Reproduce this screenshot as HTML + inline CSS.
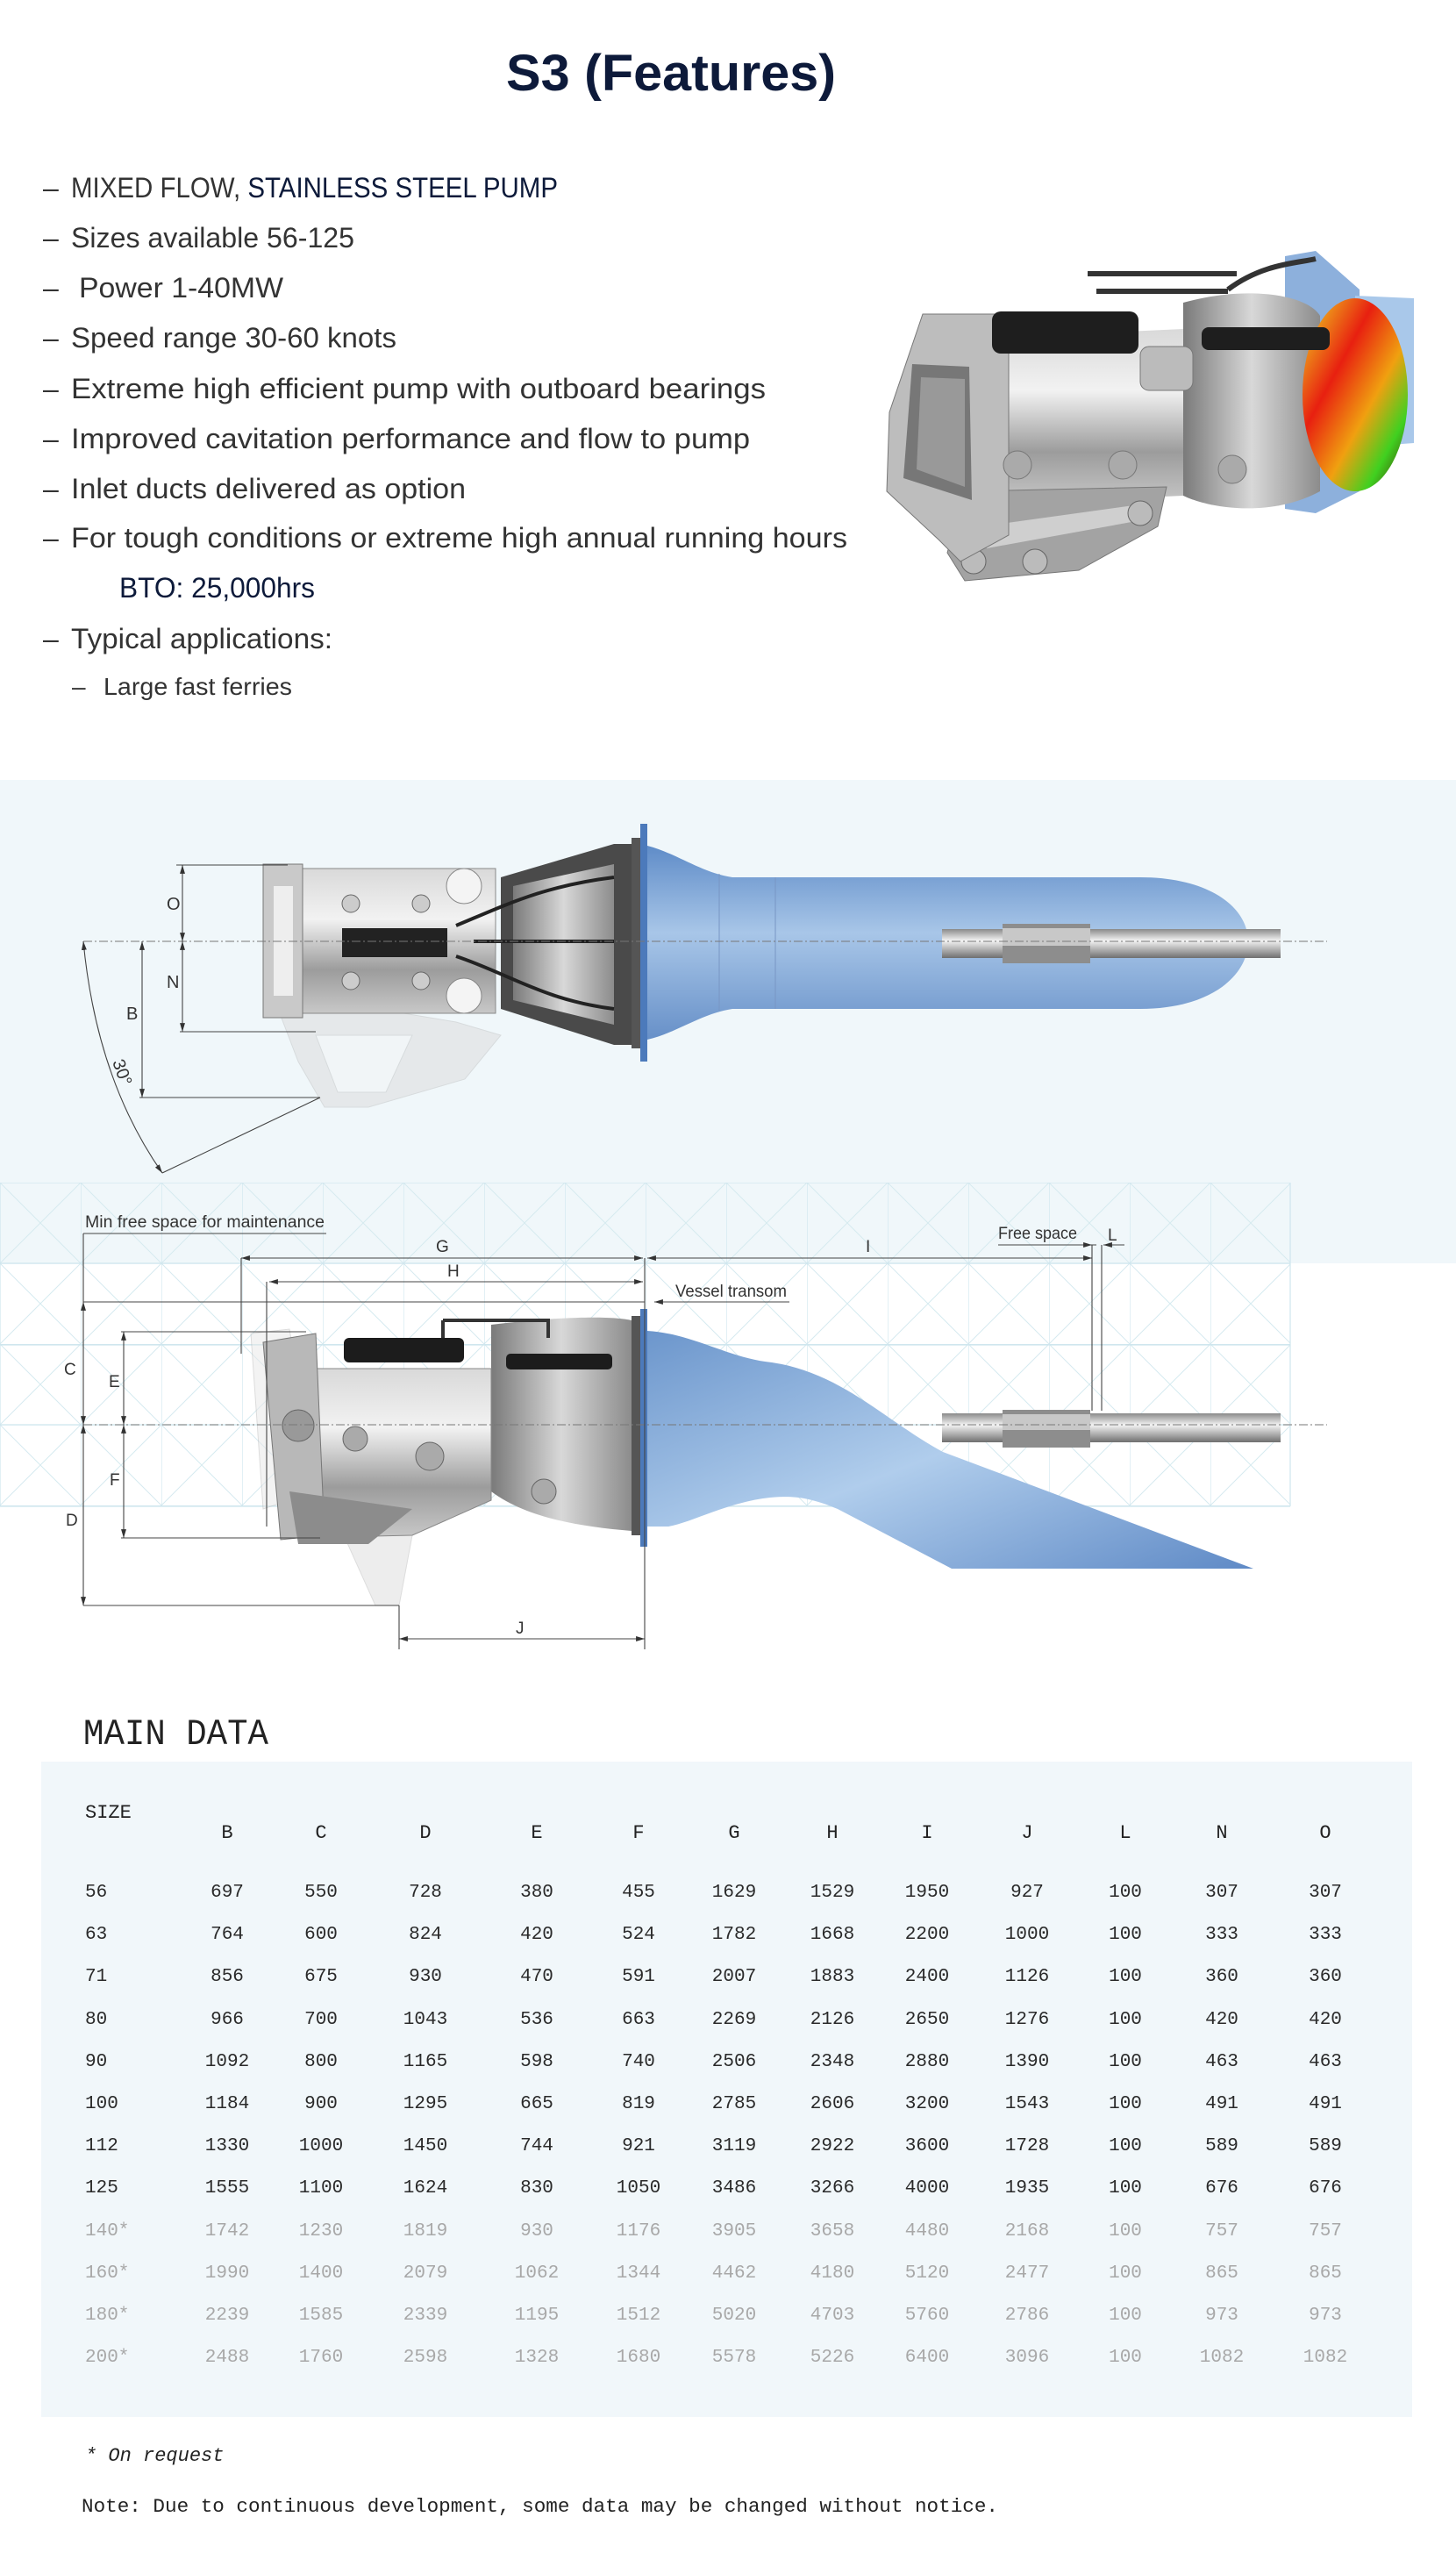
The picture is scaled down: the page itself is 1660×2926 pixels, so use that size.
<!DOCTYPE html>
<html><head><meta charset="utf-8"><style>
html,body{margin:0;padding:0;background:#fff;}
svg{display:block;}
</style></head><body>
<svg width="1660" height="2926" viewBox="0 0 1660 2926" xmlns="http://www.w3.org/2000/svg">
<defs>
<linearGradient id="metal" x1="0" y1="0" x2="0" y2="1">
<stop offset="0" stop-color="#d9d9d9"/><stop offset="0.35" stop-color="#f2f2f2"/><stop offset="0.7" stop-color="#9c9c9c"/><stop offset="1" stop-color="#c8c8c8"/></linearGradient>
<linearGradient id="metal2" x1="0" y1="0" x2="1" y2="0">
<stop offset="0" stop-color="#7a7a7a"/><stop offset="0.5" stop-color="#d8d8d8"/><stop offset="1" stop-color="#8c8c8c"/></linearGradient>
<linearGradient id="blue" x1="0" y1="0" x2="0" y2="1">
<stop offset="0" stop-color="#5f8cc8"/><stop offset="0.45" stop-color="#a8c6e8"/><stop offset="1" stop-color="#6790c8"/></linearGradient>
<linearGradient id="blue2" x1="0" y1="0" x2="1" y2="1">
<stop offset="0" stop-color="#6c96cc"/><stop offset="0.5" stop-color="#b0cdec"/><stop offset="1" stop-color="#5f8ac6"/></linearGradient>
<linearGradient id="shaft" x1="0" y1="0" x2="0" y2="1">
<stop offset="0" stop-color="#8a8a8a"/><stop offset="0.4" stop-color="#f4f4f4"/><stop offset="1" stop-color="#6f6f6f"/></linearGradient>
<linearGradient id="imp" x1="0" y1="0" x2="1" y2="1">
<stop offset="0" stop-color="#f0e020"/><stop offset="0.35" stop-color="#e82010"/><stop offset="0.6" stop-color="#f0a010"/><stop offset="0.8" stop-color="#40d020"/><stop offset="1" stop-color="#402000"/></linearGradient>
<pattern id="grid" x="0" y="1348" width="92" height="92" patternUnits="userSpaceOnUse">
<path d="M0,0 L92,92 M92,0 L0,92" stroke="#d6eaf0" stroke-width="1" fill="none"/>
<path d="M0,0 H92 M0,0 V92" stroke="#cfe6ee" stroke-width="1.2" fill="none"/>
</pattern>
<marker id="ar" viewBox="0 0 10 10" refX="10" refY="5" markerWidth="9" markerHeight="9" orient="auto-start-reverse"><path d="M0,2 L10,5 L0,8z" fill="#333"/></marker>
</defs>

<text x="765" y="103" text-anchor="middle" font-family="Liberation Sans, sans-serif" font-weight="bold" font-size="58" fill="#0d1a3a" textLength="376" lengthAdjust="spacingAndGlyphs">S3 (Features)</text>

<g font-family="Liberation Sans, sans-serif" font-size="32" fill="#333">
<text x="49" y="225">–</text>
<text x="81" y="225" textLength="555" lengthAdjust="spacingAndGlyphs">MIXED FLOW, <tspan fill="#0d1a3a">STAINLESS STEEL PUMP</tspan></text>
<text x="49" y="282">–</text><text x="81" y="282" textLength="323" lengthAdjust="spacingAndGlyphs">Sizes available 56-125</text>
<text x="49" y="339">–</text><text x="90" y="339" textLength="233" lengthAdjust="spacingAndGlyphs">Power 1-40MW</text>
<text x="49" y="396">–</text><text x="81" y="396" textLength="371" lengthAdjust="spacingAndGlyphs">Speed range 30-60 knots</text>
<text x="49" y="454">–</text><text x="81" y="454" textLength="792" lengthAdjust="spacingAndGlyphs">Extreme high efficient  pump with outboard bearings</text>
<text x="49" y="511">–</text><text x="81" y="511" textLength="774" lengthAdjust="spacingAndGlyphs">Improved cavitation performance and flow to pump</text>
<text x="49" y="568">–</text><text x="81" y="568" textLength="450" lengthAdjust="spacingAndGlyphs">Inlet ducts delivered as option</text>
<text x="49" y="624">–</text><text x="81" y="624" textLength="885" lengthAdjust="spacingAndGlyphs">For tough conditions or extreme high annual running hours</text>
<text x="136" y="681" fill="#0d1a3a" textLength="223" lengthAdjust="spacingAndGlyphs">BTO: 25,000hrs</text>
<text x="49" y="739">–</text><text x="81" y="739" textLength="298" lengthAdjust="spacingAndGlyphs">Typical applications:</text>
<text x="82" y="792" font-size="28">–</text><text x="118" y="792" font-size="28" textLength="215" lengthAdjust="spacingAndGlyphs">Large fast ferries</text>
</g>

<!-- top pump image -->
<g>
<path d="M1465,292 L1500,286 L1550,330 L1550,560 L1500,585 L1465,580z" fill="#8db0dc"/>
<path d="M1545,337 L1612,340 L1612,505 L1545,510z" fill="#a9c8ea"/>
<path d="M1349,345 C1420,325 1490,335 1505,360 L1505,560 C1450,590 1380,580 1349,565z" fill="url(#metal2)"/>
<ellipse cx="1545" cy="450" rx="60" ry="110" fill="url(#imp)"/>
<path d="M1131,385 L1349,375 L1349,565 L1131,575z" fill="url(#metal)"/>
<path d="M1100,560 L1330,555 L1320,600 L1230,650 L1100,662 L1080,630z" fill="#a3a3a3" stroke="#777"/>
<path d="M1120,600 L1300,575 L1290,595 L1125,625z" fill="#cfcfcf"/>
<circle cx="1110" cy="640" r="14" fill="#bbb" stroke="#666"/><circle cx="1180" cy="640" r="14" fill="#bbb" stroke="#666"/><circle cx="1300" cy="585" r="14" fill="#bbb" stroke="#666"/>
<path d="M1052,358 L1135,358 L1150,380 L1150,610 L1095,640 L1070,615 L1011,560 L1014,470z" fill="#bdbdbd" stroke="#777"/>
<path d="M1040,415 L1105,418 L1108,570 L1030,545z" fill="#777"/>
<path d="M1050,430 L1100,432 L1100,555 L1045,535z" fill="#999"/>
<rect x="1131" y="355" width="167" height="48" rx="10" fill="#1e1e1e"/>
<rect x="1370" y="373" width="146" height="26" rx="8" fill="#1e1e1e"/>
<path d="M1240,312 H1410 M1250,332 H1400 M1400,330 C1440,300 1480,300 1500,295" stroke="#333" stroke-width="6" fill="none"/>
<rect x="1300" y="395" width="60" height="50" rx="10" fill="#bbb" stroke="#777"/>
<circle cx="1160" cy="530" r="16" fill="#aaa" stroke="#777"/>
<circle cx="1280" cy="530" r="16" fill="#aaa" stroke="#777"/>
<circle cx="1405" cy="535" r="16" fill="#aaa" stroke="#777"/>
</g>

<rect x="0" y="889" width="1660" height="551" fill="#f0f7fa"/>
<rect x="0" y="1348" width="1471" height="369" fill="url(#grid)"/>
<path d="M0,1717 H1471 M1471,1348 V1717 M0,1440 H1471 M0,1533 H1471 M0,1624 H1471" stroke="#cfe6ee" stroke-width="1.2" fill="none"/>

<!-- Section 2 -->
<g opacity="0.45">
<path d="M317,1150 L430,1150 L520,1165 L571,1180 L530,1230 L420,1262 L370,1262 L340,1210z" fill="#d8d8d8" stroke="#bbb"/>
<path d="M360,1180 L470,1180 L440,1245 L385,1245z" fill="#f4f4f4" stroke="#bbb"/>
</g>
<path d="M738,964 C770,972 800,995 835,1000 L884,1000 L1300,1000 C1380,1000 1423,1035 1423,1073 C1423,1112 1380,1150 1300,1150 L884,1150 L835,1150 C800,1155 770,1178 738,1185z" fill="url(#blue)"/>
<path d="M820,996 V1152 M884,1000 V1150" stroke="#7896c4" stroke-width="1" fill="none"/>
<rect x="1074" y="1059" width="386" height="33" fill="url(#shaft)"/>
<rect x="1143" y="1053" width="100" height="45" fill="#8d8d8d"/>
<rect x="1143" y="1058" width="100" height="20" fill="#c8c8c8"/>
<rect x="730" y="939" width="8" height="271" fill="#4c7abb"/>
<rect x="720" y="955" width="10" height="240" fill="#555"/>
<path d="M571,1000 L700,962 L720,962 L720,1191 L700,1191 L571,1150z" fill="#4a4a4a"/>
<path d="M585,1010 L700,985 L700,1168 L585,1140z" fill="url(#metal2)"/>
<rect x="340" y="990" width="225" height="165" fill="url(#metal)" stroke="#888"/>
<rect x="300" y="985" width="45" height="175" fill="#c9c9c9" stroke="#777"/>
<rect x="312" y="1010" width="22" height="125" fill="#eee"/>
<rect x="390" y="1058" width="120" height="33" fill="#222"/>
<circle cx="529" cy="1010" r="20" fill="#f4f4f4" stroke="#888"/>
<circle cx="529" cy="1135" r="20" fill="#f4f4f4" stroke="#888"/>
<circle cx="400" cy="1030" r="10" fill="#ccc" stroke="#666"/><circle cx="480" cy="1030" r="10" fill="#ccc" stroke="#666"/>
<circle cx="400" cy="1118" r="10" fill="#ccc" stroke="#666"/><circle cx="480" cy="1118" r="10" fill="#ccc" stroke="#666"/>
<path d="M520,1055 C580,1030 620,1010 700,1000 M520,1090 C580,1110 620,1140 700,1150 M540,1073 H700" stroke="#222" stroke-width="4" fill="none"/>
<path d="M95,1073 H1513" stroke="#777" stroke-width="1" stroke-dasharray="10,3,2,3"/>
<g stroke="#444" stroke-width="1.1" fill="none">
<path d="M201,986 H328 M205,1176 H360 M159,1251 H365"/>
<path d="M208,986 V1073" marker-start="url(#ar)" marker-end="url(#ar)"/>
<path d="M208,1073 V1176" marker-start="url(#ar)" marker-end="url(#ar)"/>
<path d="M162,1073 V1251" marker-start="url(#ar)" marker-end="url(#ar)"/>
<path d="M95,1073 Q110,1230 185,1337" marker-start="url(#ar)" marker-end="url(#ar)"/>
<path d="M185,1337 L365,1251"/>
</g>
<g font-family="Liberation Sans, sans-serif" font-size="20" fill="#333">
<text x="190" y="1037">O</text><text x="190" y="1126">N</text><text x="144" y="1162">B</text>
<text x="124" y="1216" transform="rotate(70 130 1216)">30°</text>
</g>

<!-- Section 3 -->
<g opacity="0.5">
<path d="M392,1750 L470,1750 L455,1830 L428,1830z" fill="#ddd" stroke="#bbb"/>
<path d="M286,1520 L330,1515 L360,1700 L300,1720z" fill="#e8e8e8" stroke="#bbb"/>
</g>
<path d="M738,1517 C790,1520 830,1548 880,1553 C960,1565 1010,1620 1075,1655 L1429,1788 L1085,1788 L955,1720 C920,1705 900,1705 878,1707 C830,1712 790,1735 762,1740 L738,1740z" fill="url(#blue2)"/>
<rect x="1074" y="1611" width="386" height="33" fill="url(#shaft)"/>
<rect x="1143" y="1607" width="100" height="43" fill="#8d8d8d"/>
<rect x="1143" y="1612" width="100" height="18" fill="#c8c8c8"/>
<rect x="730" y="1492" width="8" height="271" fill="#4c7abb"/>
<rect x="720" y="1500" width="10" height="250" fill="#555"/>
<path d="M560,1510 C640,1500 700,1500 720,1505 L720,1745 C660,1740 600,1730 560,1700z" fill="url(#metal2)"/>
<path d="M330,1560 L560,1560 L560,1710 L470,1750 L340,1753z" fill="url(#metal)" stroke="#888"/>
<path d="M300,1530 L360,1520 L370,1750 L320,1755z" fill="#b8b8b8" stroke="#777"/>
<path d="M330,1700 L470,1720 L420,1760 L340,1760z" fill="#8c8c8c"/>
<rect x="392" y="1525" width="137" height="28" rx="6" fill="#1c1c1c"/>
<rect x="577" y="1543" width="121" height="18" rx="5" fill="#1c1c1c"/>
<path d="M505,1505 H625 V1525 M505,1505 V1525" stroke="#333" stroke-width="4" fill="none"/>
<circle cx="405" cy="1640" r="14" fill="#aaa" stroke="#666"/><circle cx="490" cy="1660" r="16" fill="#aaa" stroke="#666"/><circle cx="620" cy="1700" r="14" fill="#aaa" stroke="#666"/>
<circle cx="340" cy="1625" r="18" fill="#999" stroke="#666"/>
<path d="M95,1624 H1513" stroke="#777" stroke-width="1" stroke-dasharray="10,3,2,3"/>
<g stroke="#444" stroke-width="1.1" fill="none">
<path d="M95,1406 H372 M1138,1419 H1250 M1258,1419 H1282 M95,1484 H735 M138,1518 H349 M138,1753 H365 M95,1830 H455"/>
<path d="M95,1406 V1484 M275,1434 V1543 M304,1461 V1740 M1245,1419 V1608 M1256,1419 V1608 M455,1830 V1880 M735,1434 V1880"/>
<path d="M275,1434 H733" marker-start="url(#ar)" marker-end="url(#ar)"/>
<path d="M738,1434 H1245" marker-start="url(#ar)" marker-end="url(#ar)"/>
<path d="M307,1461 H733" marker-start="url(#ar)" marker-end="url(#ar)"/>
<path d="M900,1484 H746" marker-end="url(#ar)"/>
<path d="M1225,1419 H1245" marker-end="url(#ar)"/>
<path d="M1278,1419 H1258" marker-end="url(#ar)"/>
<path d="M95,1484 V1624" marker-start="url(#ar)" marker-end="url(#ar)"/>
<path d="M95,1624 V1830" marker-start="url(#ar)" marker-end="url(#ar)"/>
<path d="M141,1518 V1624" marker-start="url(#ar)" marker-end="url(#ar)"/>
<path d="M141,1624 V1753" marker-start="url(#ar)" marker-end="url(#ar)"/>
<path d="M455,1868 H735" marker-start="url(#ar)" marker-end="url(#ar)"/>
</g>
<g font-family="Liberation Sans, sans-serif" font-size="19" fill="#333">
<text x="97" y="1399" textLength="273" lengthAdjust="spacingAndGlyphs">Min free space for maintenance</text>
<text x="1138" y="1412" textLength="90" lengthAdjust="spacingAndGlyphs">Free space</text>
<text x="770" y="1478" textLength="127" lengthAdjust="spacingAndGlyphs">Vessel transom</text>
<text x="497" y="1427">G</text><text x="987" y="1427">I</text><text x="510" y="1455">H</text><text x="1263" y="1414">L</text>
<text x="73" y="1567">C</text><text x="124" y="1581">E</text><text x="125" y="1693">F</text><text x="75" y="1739">D</text><text x="588" y="1862">J</text>
</g>

<!-- Main data -->
<text x="95" y="1988" font-family="Liberation Mono, monospace" font-size="42" fill="#222" textLength="211" lengthAdjust="spacingAndGlyphs">MAIN DATA</text>
<rect x="47" y="2008" width="1563" height="747" fill="#f1f7fa"/>
<g font-family="Liberation Mono, monospace" font-size="22" fill="#222">
<text x="97" y="2072">SIZE</text>
<g text-anchor="middle">
<text x="259" y="2095">B</text><text x="366" y="2095">C</text><text x="485" y="2095">D</text><text x="612" y="2095">E</text><text x="728" y="2095">F</text><text x="837" y="2095">G</text><text x="949" y="2095">H</text><text x="1057" y="2095">I</text><text x="1171" y="2095">J</text><text x="1283" y="2095">L</text><text x="1393" y="2095">N</text><text x="1511" y="2095">O</text>
</g>
</g>
<g font-family="Liberation Mono, monospace" font-size="21" fill="#2a2a2a">
<g transform="translate(0,2162)">
<text x="97">56</text><g text-anchor="middle"><text x="259">697</text><text x="366">550</text><text x="485">728</text><text x="612">380</text><text x="728">455</text><text x="837">1629</text><text x="949">1529</text><text x="1057">1950</text><text x="1171">927</text><text x="1283">100</text><text x="1393">307</text><text x="1511">307</text></g></g>
<g transform="translate(0,2210)">
<text x="97">63</text><g text-anchor="middle"><text x="259">764</text><text x="366">600</text><text x="485">824</text><text x="612">420</text><text x="728">524</text><text x="837">1782</text><text x="949">1668</text><text x="1057">2200</text><text x="1171">1000</text><text x="1283">100</text><text x="1393">333</text><text x="1511">333</text></g></g>
<g transform="translate(0,2258)">
<text x="97">71</text><g text-anchor="middle"><text x="259">856</text><text x="366">675</text><text x="485">930</text><text x="612">470</text><text x="728">591</text><text x="837">2007</text><text x="949">1883</text><text x="1057">2400</text><text x="1171">1126</text><text x="1283">100</text><text x="1393">360</text><text x="1511">360</text></g></g>
<g transform="translate(0,2307)">
<text x="97">80</text><g text-anchor="middle"><text x="259">966</text><text x="366">700</text><text x="485">1043</text><text x="612">536</text><text x="728">663</text><text x="837">2269</text><text x="949">2126</text><text x="1057">2650</text><text x="1171">1276</text><text x="1283">100</text><text x="1393">420</text><text x="1511">420</text></g></g>
<g transform="translate(0,2355)">
<text x="97">90</text><g text-anchor="middle"><text x="259">1092</text><text x="366">800</text><text x="485">1165</text><text x="612">598</text><text x="728">740</text><text x="837">2506</text><text x="949">2348</text><text x="1057">2880</text><text x="1171">1390</text><text x="1283">100</text><text x="1393">463</text><text x="1511">463</text></g></g>
<g transform="translate(0,2403)">
<text x="97">100</text><g text-anchor="middle"><text x="259">1184</text><text x="366">900</text><text x="485">1295</text><text x="612">665</text><text x="728">819</text><text x="837">2785</text><text x="949">2606</text><text x="1057">3200</text><text x="1171">1543</text><text x="1283">100</text><text x="1393">491</text><text x="1511">491</text></g></g>
<g transform="translate(0,2451)">
<text x="97">112</text><g text-anchor="middle"><text x="259">1330</text><text x="366">1000</text><text x="485">1450</text><text x="612">744</text><text x="728">921</text><text x="837">3119</text><text x="949">2922</text><text x="1057">3600</text><text x="1171">1728</text><text x="1283">100</text><text x="1393">589</text><text x="1511">589</text></g></g>
<g transform="translate(0,2499)">
<text x="97">125</text><g text-anchor="middle"><text x="259">1555</text><text x="366">1100</text><text x="485">1624</text><text x="612">830</text><text x="728">1050</text><text x="837">3486</text><text x="949">3266</text><text x="1057">4000</text><text x="1171">1935</text><text x="1283">100</text><text x="1393">676</text><text x="1511">676</text></g></g>
</g>
<g font-family="Liberation Mono, monospace" font-size="21" fill="#a8a8a8">
<g transform="translate(0,2548)">
<text x="97">140*</text><g text-anchor="middle"><text x="259">1742</text><text x="366">1230</text><text x="485">1819</text><text x="612">930</text><text x="728">1176</text><text x="837">3905</text><text x="949">3658</text><text x="1057">4480</text><text x="1171">2168</text><text x="1283">100</text><text x="1393">757</text><text x="1511">757</text></g></g>
<g transform="translate(0,2596)">
<text x="97">160*</text><g text-anchor="middle"><text x="259">1990</text><text x="366">1400</text><text x="485">2079</text><text x="612">1062</text><text x="728">1344</text><text x="837">4462</text><text x="949">4180</text><text x="1057">5120</text><text x="1171">2477</text><text x="1283">100</text><text x="1393">865</text><text x="1511">865</text></g></g>
<g transform="translate(0,2644)">
<text x="97">180*</text><g text-anchor="middle"><text x="259">2239</text><text x="366">1585</text><text x="485">2339</text><text x="612">1195</text><text x="728">1512</text><text x="837">5020</text><text x="949">4703</text><text x="1057">5760</text><text x="1171">2786</text><text x="1283">100</text><text x="1393">973</text><text x="1511">973</text></g></g>
<g transform="translate(0,2692)">
<text x="97">200*</text><g text-anchor="middle"><text x="259">2488</text><text x="366">1760</text><text x="485">2598</text><text x="612">1328</text><text x="728">1680</text><text x="837">5578</text><text x="949">5226</text><text x="1057">6400</text><text x="1171">3096</text><text x="1283">100</text><text x="1393">1082</text><text x="1511">1082</text></g></g>
</g>
<g font-family="Liberation Mono, monospace" font-size="22" fill="#222">
<text x="97" y="2805" font-style="italic">*  On request</text>
<text x="93" y="2863" textLength="1045" lengthAdjust="spacingAndGlyphs">Note: Due to continuous development, some data may be changed without notice.</text>
</g>
</svg>
</body></html>
